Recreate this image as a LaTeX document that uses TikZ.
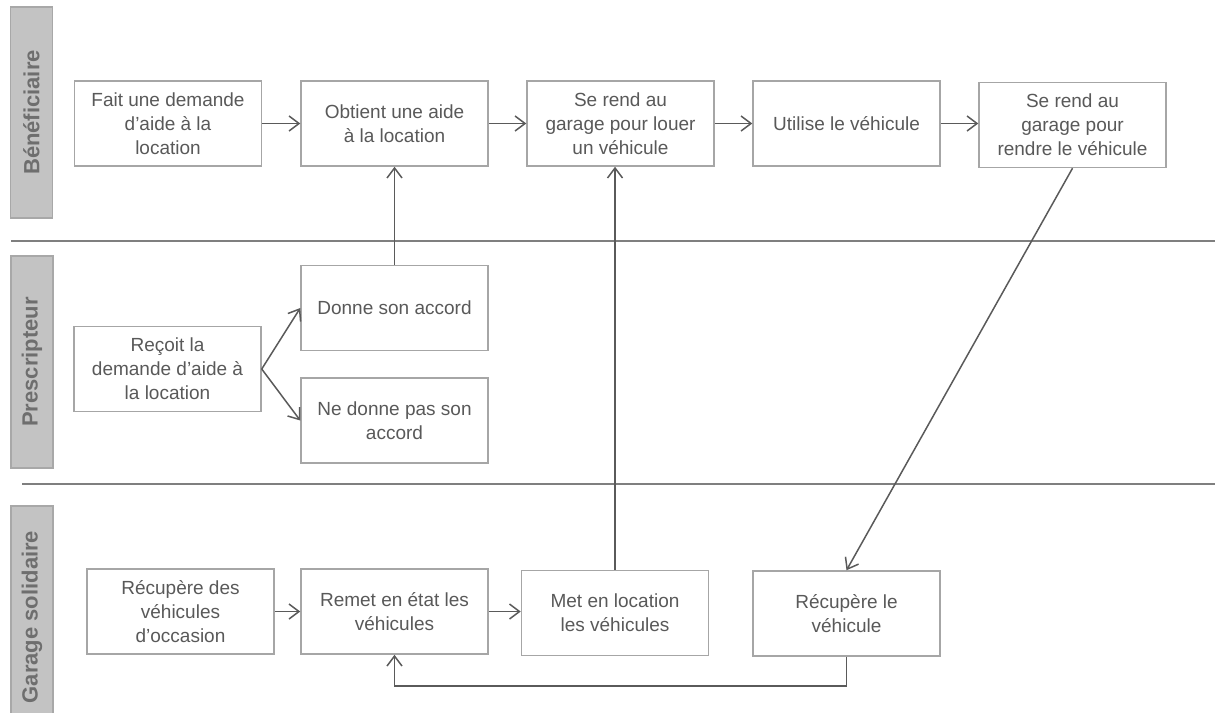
\documentclass[tikz,border=0pt]{standalone}
\usepackage{fontspec}
\setmainfont{Liberation Sans}
\usetikzlibrary{arrows.meta}
\definecolor{txt}{HTML}{595959}
\definecolor{boxline}{HTML}{A6A6A6}
\definecolor{arrline}{HTML}{5A5A5A}
\definecolor{lanefill}{HTML}{C3C3C3}
\definecolor{laneline}{HTML}{A8A8A8}
\definecolor{lanetxt}{HTML}{6E6E6E}
\definecolor{sepline}{HTML}{7F7F7F}
\tikzset{
  stepbox/.style={draw=boxline, line width=1.5pt, fill=white, minimum width=187pt, minimum height=85pt,
    inner sep=0pt, align=center, text=txt, font=\fontsize{19}{24}\selectfont},
  lanelabel/.style={draw=laneline, line width=1.5pt, fill=lanefill, rotate=90, minimum height=42pt,
    inner sep=0pt, text=lanetxt, font=\fontsize{22}{26}\selectfont\bfseries},
  arr/.style={draw=arrline, line width=1.5pt, -{Straight Barb[length=10pt,width=15pt,line width=1.5pt]}},
  sep/.style={draw=sepline, line width=1.6pt}
}
\begin{document}
\begin{tikzpicture}[x=1pt,y=-1pt]
\useasboundingbox (0,0) rectangle (1215,712);
% lane labels
\node[lanelabel, minimum width=211pt] (l1) at (31.5,112.5) {Bénéficiaire};
\node[lanelabel, minimum width=212pt] (l2) at (32,362) {Prescripteur};
\node[lanelabel, minimum width=222pt] (l3) at (32,617) {Garage solidaire};
% separators
\coordinate (s1a) at (11,241);
\coordinate (s1b) at (1215,241);
\coordinate (s2a) at (22,484);
\coordinate (s2b) at (1215,484);
\draw[sep] (s1a) -- (s1b);
\draw[sep] (s2a) -- (s2b);
% top lane
\node[stepbox] (b1) at (168,123.5) {Fait une demande\\d’aide à la\\location};
\node[stepbox] (b2) at (394.5,123.5) {Obtient une aide\\à la location};
\node[stepbox] (b3) at (620.5,123.5) {Se rend au\\garage pour louer\\un véhicule};
\node[stepbox] (b4) at (846.5,123.5) {Utilise le véhicule};
\node[stepbox] (b5) at (1072.5,125) {Se rend au\\garage pour\\rendre le véhicule};
% middle lane
\node[stepbox] (p1) at (167.5,369) {Reçoit la\\demande d’aide à\\la location};
\node[stepbox] (p2) at (394.5,308) {Donne son accord};
\node[stepbox] (p3) at (394.5,420.5) {Ne donne pas son\\accord};
% bottom lane
\node[stepbox] (g1) at (180.5,611.5) {Récupère des\\véhicules\\d’occasion};
\node[stepbox] (g2) at (394.5,611.5) {Remet en état les\\véhicules};
\node[stepbox] (g3) at (615,613) {Met en location\\les véhicules};
\node[stepbox] (g4) at (846.5,613.5) {Récupère le\\véhicule};
% connectors
\draw[arr] (b1) -- (b2);
\draw[arr] (b2) -- (b3);
\draw[arr] (b3) -- (b4);
\draw[arr] (b4.east) -- (b4.east -| b5.west);
\draw[arr] (p2.north) -- (b2.south);
\draw[arr] (p1.east) -- (p2.west);
\draw[arr] (p1.east) -- (p3.west);
\draw[arr] (g3.north) -- (g3.north |- b3.south);
\draw[arr] (b5.south) -- (g4.north);
\draw[arr] (g1) -- (g2);
\draw[arr] (g2.east) -- (g2.east -| g3.west);
\coordinate (rc) at (394.5,686);
\draw[arr] (g4.south) |- (rc) -- (g2.south);
\end{tikzpicture}
\end{document}
